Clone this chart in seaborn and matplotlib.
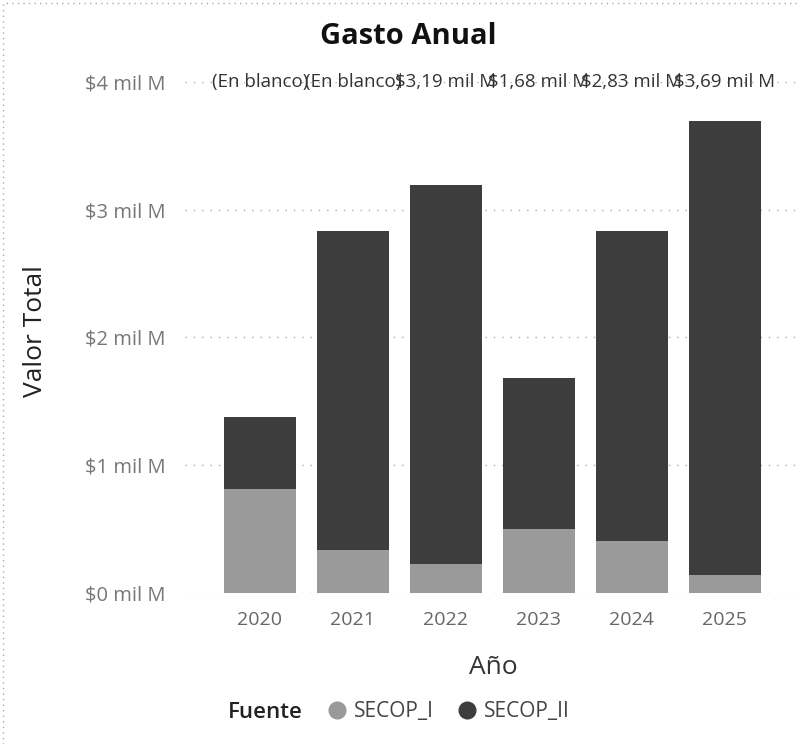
import numpy as np
import pandas as pd
import matplotlib
matplotlib.use("Agg")
import matplotlib.pyplot as plt
from matplotlib.lines import Line2D
from matplotlib.patches import Rectangle
import seaborn as sns

# valores (miles de millones)
anios = ["2020", "2021", "2022", "2023", "2024", "2025"]
secop_i = [0.81, 0.34, 0.23, 0.50, 0.41, 0.14]
secop_ii = [0.57, 2.49, 2.96, 1.18, 2.42, 3.55]
etiquetas = ["(En blanco)", "(En blanco)", "$3,19 mil M", "$1,68 mil M", "$2,83 mil M", "$3,69 mil M"]
ticks_y = [0, 1, 2, 3, 4]
ticks_y_txt = ["$0 mil M", "$1 mil M", "$2 mil M", "$3 mil M", "$4 mil M"]

color_i = "#9a9a9a"
color_ii = "#3d3d3d"

sns.set_style("white")
plt.rcParams['font.family'] = ['Open Sans', 'DejaVu Sans']

df = pd.DataFrame({"Año": anios, "SECOP_I": secop_i, "SECOP_II": secop_ii})
df["Total"] = df["SECOP_I"] + df["SECOP_II"]

fig = plt.figure(figsize=(8.01, 7.44), dpi=100)
ax = fig.add_axes([0.231, 0.203, 0.769, 0.687])

sns.barplot(data=df, x="Año", y="Total", color=color_ii, width=0.775,
            saturation=1, edgecolor="none", ax=ax, zorder=2)
sns.barplot(data=df, x="Año", y="SECOP_I", color=color_i, width=0.775,
            saturation=1, edgecolor="none", ax=ax, zorder=3)

ax.set_xlim(-0.806, 5.82)
ax.set_ylim(0, 4)
ax.set_yticks(ticks_y)
ax.set_yticklabels(ticks_y_txt)
ax.tick_params(axis="y", length=0, pad=14, labelsize=14.5, labelcolor="#777777")
ax.tick_params(axis="x", length=0, pad=13, labelsize=14, labelcolor="#666666")
for s in ax.spines.values():
    s.set_visible(False)
ax.yaxis.grid(True, linestyle=(0, (1, 5)), color="#aaaaaa", linewidth=1)
ax.set_axisbelow(True)

ax.set_xlabel("Año", fontsize=19, color="#333333", labelpad=19)
ax.set_ylabel("Valor Total", fontsize=19, color="#222222")
ax.yaxis.set_label_coords(-0.222, 0.513)

for i, t in enumerate(etiquetas):
    ax.text(i, 4, t, ha="center", va="center", fontsize=13.5, color="#333333",
            clip_on=False)

fig.text(0.51, 0.951, "Gasto Anual", ha="center", va="center", fontsize=21,
         fontweight="bold", color="#111111")

fig.text(228 / 801, 1 - 712 / 744, "Fuente", ha="left", va="center", fontsize=16,
         fontweight="semibold", color="#222222")
handles = [Line2D([], [], marker="o", linestyle="none", markersize=12, color=color_i),
           Line2D([], [], marker="o", linestyle="none", markersize=12, color=color_ii)]
leg = fig.legend(handles, ["SECOP_I", "SECOP_II"], loc="center left",
                 bbox_to_anchor=(327 / 801, 1 - 712 / 744), ncol=2, frameon=False,
                 fontsize=15, handletextpad=0.3, columnspacing=1.1, handlelength=1.0,
                 borderpad=0, borderaxespad=0)
for t in leg.get_texts():
    t.set_color("#444444")

# borde punteado del visual
fig.patches.append(Rectangle((0.004, -0.01), 1.2, 1.006, transform=fig.transFigure,
                             fill=False, linestyle=(0, (1, 3)), edgecolor="#aaaaaa",
                             linewidth=1))

fig.savefig("out.png", dpi=100)
